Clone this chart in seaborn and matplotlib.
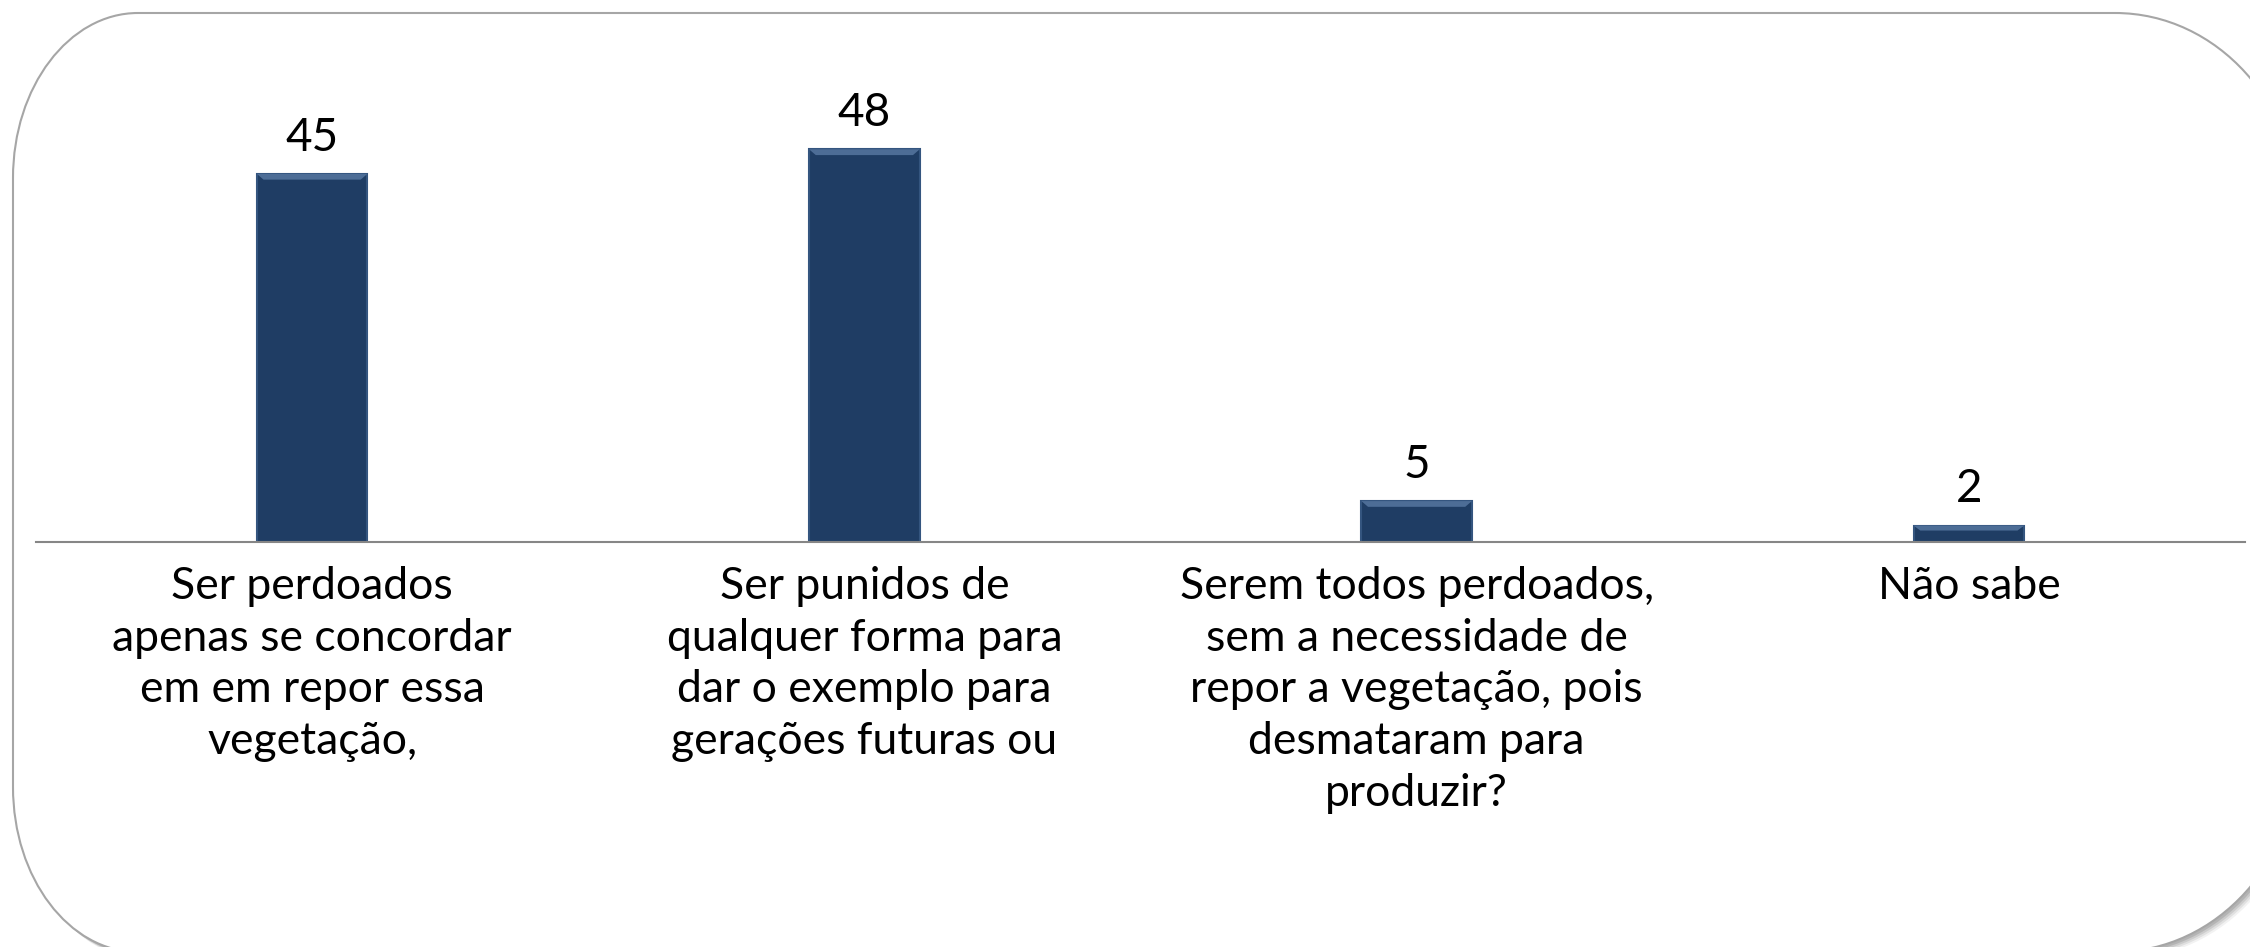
import matplotlib
matplotlib.use("Agg")
import matplotlib.pyplot as plt
from matplotlib.path import Path
from matplotlib.patches import PathPatch, Polygon
import seaborn as sns
import pandas as pd

categories = [
    "Ser perdoados\napenas se concordar\nem em repor essa\nvegetação,",
    "Ser punidos de\nqualquer forma para\ndar o exemplo para\ngerações futuras ou",
    "Serem todos perdoados,\nsem a necessidade de\nrepor a vegetação, pois\ndesmataram para\nproduzir?",
    "Não sabe",
]
values = [45, 48, 5, 2]

BAR_COLOR = "#1f3d64"
W, H = 2250, 947

sns.set_theme(style="white")
plt.rcParams["font.family"] = ["Lato", "DejaVu Sans"]

fig = plt.figure(figsize=(W / 100, H / 100), dpi=100)
fig.patch.set_facecolor("white")


def rounded_path(x0, y0, x1, y1, rxl, ryl, rxr, ryr):
    k = 0.5523
    verts = [
        (x0 + rxl, y0), (x1 - rxr, y0),
        (x1 - rxr + k * rxr, y0), (x1, y0 + ryr - k * ryr), (x1, y0 + ryr),
        (x1, y1 - ryr),
        (x1, y1 - ryr + k * ryr), (x1 - rxr + k * rxr, y1), (x1 - rxr, y1),
        (x0 + rxl, y1),
        (x0 + rxl - k * rxl, y1), (x0, y1 - ryl + k * ryl), (x0, y1 - ryl),
        (x0, y0 + ryl),
        (x0, y0 + ryl - k * ryl), (x0 + rxl - k * rxl, y0), (x0 + rxl, y0),
        (x0 + rxl, y0),
    ]
    codes = [Path.MOVETO, Path.LINETO,
             Path.CURVE4, Path.CURVE4, Path.CURVE4,
             Path.LINETO,
             Path.CURVE4, Path.CURVE4, Path.CURVE4,
             Path.LINETO,
             Path.CURVE4, Path.CURVE4, Path.CURVE4,
             Path.LINETO,
             Path.CURVE4, Path.CURVE4, Path.CURVE4,
             Path.CLOSEPOLY]
    verts = [(x / W, y / H) for x, y in verts]
    return Path(verts, codes)


# frame (pixel coords, y measured from bottom)
fl, fr, ft, fb = 13, 2300, H - 13, H - 952
radii = (125, 165, 185, 205)
for i, a in enumerate([0.05, 0.07, 0.09, 0.11]):
    off = 7 - i * 1.5
    sh = PathPatch(rounded_path(fl + off, fb - off, fr + off, ft - off, *radii),
                   transform=fig.transFigure, facecolor="#000000", alpha=a,
                   edgecolor="none", zorder=0)
    fig.patches.append(sh)
frame = PathPatch(rounded_path(fl, fb, fr, ft, *radii), transform=fig.transFigure,
                  facecolor="white", edgecolor="#a6a6a6", linewidth=1.5, zorder=1)
fig.patches.append(frame)

ax_left, ax_right = 36, 2245
ax_bottom_px = 542
ymax = 60
px_per_unit = 8.18
ax_h = ymax * px_per_unit
ax = fig.add_axes([ax_left / W, (H - ax_bottom_px) / H, (ax_right - ax_left) / W, ax_h / H])
ax.set_facecolor("none")
ax.set_zorder(2)

df = pd.DataFrame({"cat": categories, "val": values})
sns.barplot(data=df, x="cat", y="val", color=BAR_COLOR, saturation=1, width=0.2,
            edgecolor="#34557f", linewidth=1.5, ax=ax)

# bevel highlight on top of each bar (derived from the drawn bars)
for p in ax.patches:
    x, y, w, h = p.get_x(), p.get_y(), p.get_width(), p.get_height()
    bev = min(0.7, h * 0.3)
    dx = w * 0.06
    ax.add_patch(Polygon([(x, y + h), (x + w, y + h), (x + w - dx, y + h - bev), (x + dx, y + h - bev)],
                         closed=True, facecolor="#4d6d96", edgecolor="none", zorder=3))

for c in ax.containers:
    ax.bar_label(c, labels=[str(v) for v in values], padding=11, fontsize=33, color="black")

ax.set_xlim(-0.5, 3.5)
ax.set_ylim(0, ymax)
ax.set_xlabel("")
ax.set_ylabel("")
ax.set_yticks([])
for s in ["top", "left", "right"]:
    ax.spines[s].set_visible(False)
ax.spines["bottom"].set_color("#868686")
ax.spines["bottom"].set_linewidth(1.5)
ax.tick_params(axis="x", length=0, pad=17, labelsize=32, labelcolor="black")
for t in ax.get_xticklabels():
    t.set_linespacing(1.33)
    t.set_verticalalignment("top")

fig.savefig("out.png", dpi=100, facecolor="white")
